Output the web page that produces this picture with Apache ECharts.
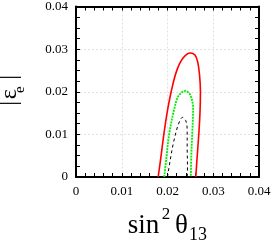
<!DOCTYPE html>
<html>
<head>
<meta charset="utf-8">
<script src="https://cdn.jsdelivr.net/npm/echarts@6/dist/echarts.min.js"></script>
<style>html,body{margin:0;padding:0;background:#fff}#c{width:274px;height:244px}</style>
</head>
<body>
<div id="c"></div>
<script>
var xTicks = [0, 0.01, 0.02, 0.03, 0.04];
var yTicks = [0, 0.01, 0.02, 0.03, 0.04];
var red = [[0.01796,0],[0.0186,0.005],[0.0192,0.0100],[0.0199,0.0150],[0.0208,0.0200],[0.0220,0.0249],[0.0234,0.0279],[0.0250,0.0291],[0.0260,0.0286],[0.0266,0.0270],[0.0270,0.0240],[0.0272,0.0200],[0.0271,0.0150],[0.02684,0.0100],[0.0265,0.0050],[0.02618,0]];
var green = [[0.0193,0],[0.0198,0.005],[0.02036,0.0100],[0.0214,0.0156],[0.0224,0.0190],[0.0239,0.0202],[0.0250,0.0192],[0.0256,0.0160],[0.0254,0.0100],[0.0252,0.005],[0.0251,0]];
var black = [[0.0200,0],[0.0206,0.0040],[0.0213,0.0080],[0.0223,0.0121],[0.0233,0.0140],[0.0240,0.0132],[0.0243,0.0110],[0.0243,0.0070],[0.02436,0.0030],[0.02436,0]];

var font = 'Liberation Serif';
var chart = echarts.init(document.getElementById('c'));
function axisCommon(showLabel, pos, ticks, split) {
  return {
    type: 'value', position: pos, min: ticks[0], max: ticks[ticks.length-1], interval: 0.01,
    axisLine: {show: true, onZero: false, lineStyle: {color: '#000', width: 2}},
    axisTick: {show: true, inside: true, length: 4, lineStyle: {color: '#000', width: 1}},
    minorTick: {show: true, splitNumber: split, length: 4, lineStyle: {color: '#000', width: 1}},
    axisLabel: {show: showLabel, color: '#000', fontFamily: font, fontSize: 13, margin: 8},
    splitLine: {show: showLabel, lineStyle: {color: '#e0e0e0', type: [2, 2], width: 1}}
  };
}
var xb = axisCommon(true, 'bottom', xTicks, 5);
var xt = axisCommon(false, 'top', xTicks, 5);
var yl = axisCommon(true, 'left', yTicks, 4);
var yr = axisCommon(false, 'right', yTicks, 4);

function t(txt, x, y, size, rot) {
  return {type: 'text', x: x, y: y, rotation: rot || 0, style: {text: txt, fill: '#000', font: size + 'px ' + font, align: 'center', verticalAlign: 'middle'}};
}
chart.setOption({
  animation: false,
  grid: {left: 76, right: 15, top: 6, bottom: 67},
  xAxis: [xb, xt],
  yAxis: [yl, yr],
  series: [
    {type: 'line', data: red, smooth: 0.35, showSymbol: false, lineStyle: {color: '#ff0000', width: 1.6}},
    {type: 'line', data: green, smooth: 0.35, showSymbol: false, lineStyle: {color: '#00ee00', width: 1.8, type: [2, 1]}},
    {type: 'line', data: black, smooth: 0.35, showSymbol: false, lineStyle: {color: '#000', width: 1, type: [3, 3]}}
  ],
  graphic: [
    t('sin', 143.5, 226, 27),
    t('2', 166, 214.4, 17),
    t('θ', 181.5, 226, 27),
    t('13', 198, 235.5, 18),
    t('|', 9.3, 103.3, 24, Math.PI/2),
    t('ε', 9.3, 94.2, 24, Math.PI/2),
    t('e', 20, 89.7, 15, Math.PI/2),
    t('|', 9.3, 77.3, 24, Math.PI/2)
  ]
});
</script>
</body>
</html>
